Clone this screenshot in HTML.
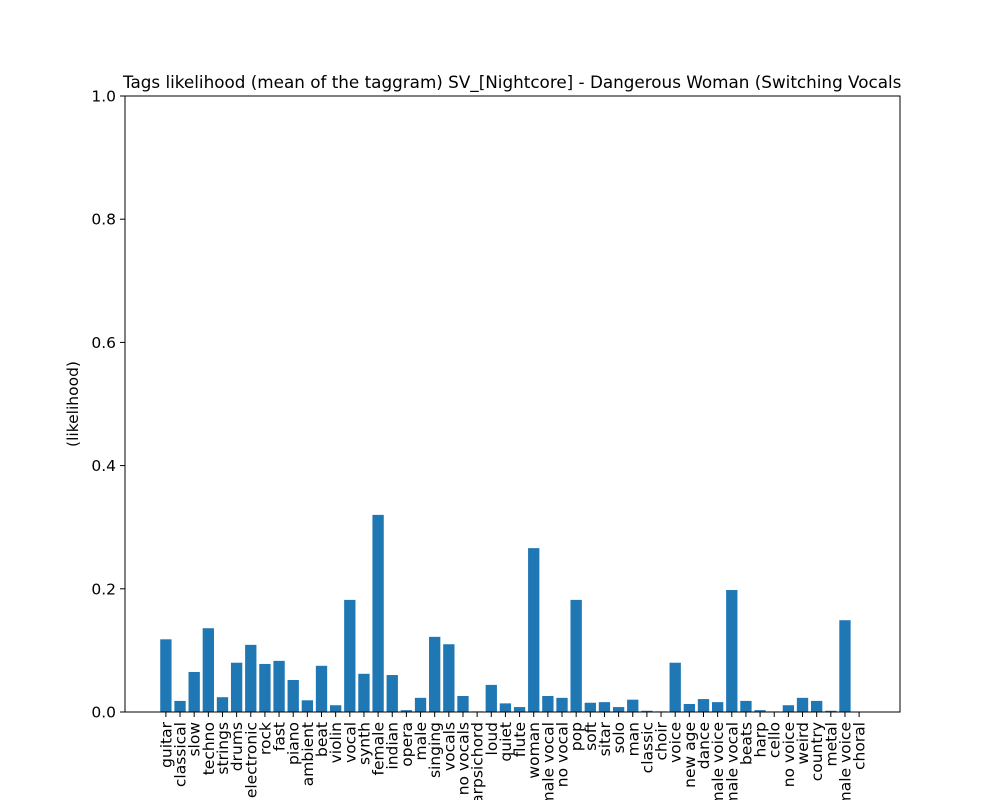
<!DOCTYPE html>
<html><head><meta charset="utf-8"><style>
body{margin:0;background:#fff;}
svg text{font-family:"DejaVu Sans","Liberation Sans",sans-serif;fill:#000;}
</style></head><body>
<svg id="chart" width="1000" height="800" viewBox="0 0 1000 800" xmlns="http://www.w3.org/2000/svg">
<rect width="1000" height="800" fill="#fff"/>
<g id="bars"></g>
<g id="xt"></g>
<g id="yt"></g>
<rect x="125" y="96" width="775" height="616" fill="none" stroke="#000" stroke-width="1"/>
<text x="123" y="88" font-size="16.8">Tags likelihood (mean of the taggram) SV_[Nightcore] - Dangerous Woman (Switching Vocals</text>
<text transform="translate(78,404) rotate(-90)" text-anchor="middle" font-size="15.5">(likelihood)</text>
</svg>
<script>
const categories=["guitar","classical","slow","techno","strings","drums","electronic","rock","fast","piano","ambient","beat","violin","vocal","synth","female","indian","opera","male","singing","vocals","no vocals","harpsichord","loud","quiet","flute","woman","male vocal","no vocal","pop","soft","sitar","solo","man","classic","choir","voice","new age","dance","male voice","female vocal","beats","harp","cello","no voice","weird","country","metal","female voice","choral"];
const values=[0.118,0.018,0.065,0.136,0.024,0.080,0.109,0.078,0.083,0.052,0.019,0.075,0.011,0.182,0.062,0.320,0.060,0.003,0.023,0.122,0.110,0.026,0.001,0.044,0.014,0.008,0.266,0.026,0.023,0.182,0.015,0.016,0.008,0.020,0.002,0.001,0.080,0.013,0.021,0.016,0.198,0.018,0.003,0.001,0.011,0.023,0.018,0.002,0.149,0.0005];
const yTicks=[0,0.2,0.4,0.6,0.8,1.0];
const yTickLabels=["0.0","0.2","0.4","0.6","0.8","1.0"];
const NS="http://www.w3.org/2000/svg";
const L=125,R=900,T=96,B=712;
const n=categories.length;
const x0=-0.4-0.05*(n-0.2), x1=(n-1)+0.4+0.05*(n-0.2);
const xs=v=>L+(v-x0)/(x1-x0)*(R-L);
const ys=v=>B-v*(B-T);
const bars=document.getElementById('bars'),xt=document.getElementById('xt'),yt=document.getElementById('yt');
function mk(t,a){const e=document.createElementNS(NS,t);for(const k in a)e.setAttribute(k,a[k]);return e;}
categories.forEach((c,i)=>{
  const w=xs(0.8)-xs(0);
  const r=mk('rect',{x:xs(i-0.4),y:ys(values[i]),width:w,height:B-ys(values[i]),fill:'#1f77b4'});
  
  
  bars.appendChild(r);
  const tk=mk('line',{x1:xs(i),x2:xs(i),y1:B,y2:B+5,stroke:'#000'});
  
  
  xt.appendChild(tk);
  const tx=mk('text',{transform:`translate(${xs(i)+5.5},722) rotate(-90)`,'text-anchor':'end','font-size':'15.5'});
  tx.textContent=c;
  
  
  xt.appendChild(tx);
});
yTicks.forEach((v,i)=>{
  const tk=mk('line',{x1:L-5,x2:L,y1:ys(v),y2:ys(v),stroke:'#000'});
  
  
  yt.appendChild(tk);
  const tx=mk('text',{x:L-9,y:ys(v)+5.5,'text-anchor':'end','font-size':'15.5'});
  tx.textContent=yTickLabels[i];
  
  
  yt.appendChild(tx);
});
</script>
</body></html>
